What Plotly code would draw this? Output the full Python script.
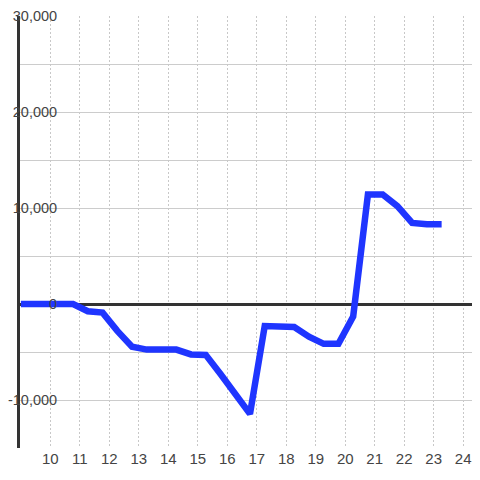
import plotly.graph_objects as go

hours = [9.0, 9.77, 10.27, 10.77, 11.27, 11.77, 12.27, 12.77, 13.27, 13.77,
         14.27, 14.77, 15.27, 15.77, 16.27, 16.77, 17.27, 17.77, 18.27, 18.77,
         19.27, 19.77, 20.27, 20.77, 21.27, 21.77, 22.27, 22.77, 23.27]
values = [0, 0, 0, 0, -750, -900, -2800, -4450, -4750, -4750,
          -4750, -5250, -5300, -7300, -9400, -11450, -2300, -2400, -2400, -3400,
          -4150, -4150, -1300, 11400, 11400, 10200, 8450, 8300, 8300]

x_ticks = list(range(10, 25))
y_ticks = [-10000, 0, 10000, 20000, 30000]

fig = go.Figure()
fig.add_trace(go.Scatter(
    x=hours,
    y=values,
    mode="lines",
    line=dict(color="#1f35ff", width=6.5),
    hoverinfo="skip",
))

fig.update_xaxes(
    range=[8.97, 24.3],
    tickvals=x_ticks,
    ticktext=[str(t) for t in x_ticks],
    showgrid=True,
    gridcolor="#c8c8c8",
    griddash="2px,2px",
    gridwidth=1,
    zeroline=False,
    showline=False,
    ticks="",
    automargin=False,
    ticklabeloverflow="allow",
)
fig.update_yaxes(
    range=[-15000, 30000],
    tickvals=y_ticks,
    ticktext=["-10,000", "0", "10,000", "20,000", "30,000"],
    tickfont=dict(size=14.5),
    showgrid=True,
    gridcolor="#cccccc",
    gridwidth=1,
    minor=dict(dtick=5000, tick0=0, showgrid=True, gridcolor="#cccccc", gridwidth=1),
    zeroline=True,
    zerolinecolor="#333333",
    zerolinewidth=3,
    showline=True,
    linecolor="#333333",
    linewidth=3,
    ticks="",
    ticklabelstandoff=-43,
    automargin=False,
    ticklabeloverflow="allow",
)
fig.update_layout(
    width=464,
    height=464,
    showlegend=False,
    plot_bgcolor="white",
    paper_bgcolor="white",
    font=dict(family="Liberation Sans, Arial, sans-serif", size=15, color="#444444"),
    margin=dict(l=12, r=0, t=8, b=24),
)

fig.write_html("out.html")
